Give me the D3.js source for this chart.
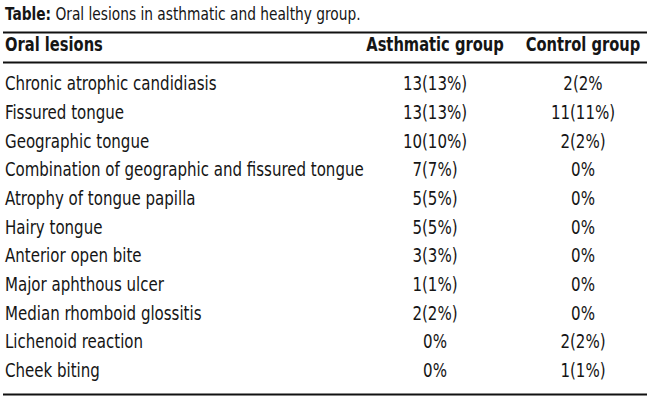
<!DOCTYPE html>
<html>
<head>
<meta charset="utf-8">
<script src="https://cdn.jsdelivr.net/npm/d3@7"></script>
<style>
  body { margin: 0; background: #fff; }
  text { font-family: "DejaVu Sans Condensed", "DejaVu Sans", sans-serif; font-stretch: condensed; fill: #151515; }
</style>
</head>
<body>
<div id="chart"></div>
<script>
// datos de la tabla
const headers = ["Oral lesions", "Asthmatic group", "Control group"]
const lesions = [
  "Chronic atrophic candidiasis",
  "Fissured tongue",
  "Geographic tongue",
  "Combination of geographic and fissured tongue",
  "Atrophy of tongue papilla",
  "Hairy tongue",
  "Anterior open bite",
  "Major aphthous ulcer",
  "Median rhomboid glossitis",
  "Lichenoid reaction",
  "Cheek biting"
]
const asthmatic = ["13(13%)", "13(13%)", "10(10%)", "7(7%)", "5(5%)", "5(5%)", "3(3%)", "1(1%)", "2(2%)", "0%", "0%"]
const control = ["2(2%", "11(11%)", "2(2%)", "0%", "0%", "0%", "0%", "0%", "0%", "2(2%)", "1(1%)"]

const width = 650
const height = 404
const squeeze = 0.86 // la fuente original es condensada

const svg = d3.select("div#chart").append("svg").attr("width", width).attr("height", height)

// título
const title = svg.append("g").attr("transform", `translate(5, 20) scale(0.9, 1)`)
  .append("text").style("font-size", "17px")
title.append("tspan").style("font-weight", "bold").text("Table:")
title.append("tspan").text(" Oral lesions in asthmatic and healthy group.")

// escalas: filas y columnas
const y = d3.scalePoint().domain(lesions).range([85, 371.5])
const colX = d3.scaleOrdinal().domain(headers).range([5, 435, 583])

// líneas horizontales
const lines = [32.5, 62.5, 394.5]
svg.selectAll("line.rule").data(lines).enter()
  .append("line")
  .attr("class", "rule")
  .attr("x1", 3).attr("x2", 647)
  .attr("y1", d => d).attr("y2", d => d)
  .attr("stroke", "#111").attr("stroke-width", 2)

// cabecera
svg.selectAll("g.header").data(headers).enter()
  .append("g")
  .attr("class", "header")
  .attr("transform", d => `translate(${colX(d)}, 46) scale(${squeeze}, 1)`)
  .append("text")
  .attr("dominant-baseline", "middle")
  .attr("text-anchor", (d, i) => i === 0 ? "start" : "middle")
  .style("font-size", "19px")
  .style("font-weight", "bold")
  .text(d => d)

// filas
const rows = svg.selectAll("g.row").data(lesions).enter()
  .append("g")
  .attr("class", "row")
  .attr("transform", d => `translate(0, ${y(d)})`)

const cell = (sel, x, anchor, fn) => sel.append("g")
  .attr("transform", `translate(${x}, 0) scale(${squeeze + 0.02}, 1)`)
  .append("text")
  .attr("text-anchor", anchor)
  .attr("dominant-baseline", "middle")
  .style("font-size", "19px")
  .text(fn)

cell(rows, colX(headers[0]), "start", d => d)
cell(rows, colX(headers[1]), "middle", (d, i) => asthmatic[i])
cell(rows, colX(headers[2]), "middle", (d, i) => control[i])
</script>
</body>
</html>
